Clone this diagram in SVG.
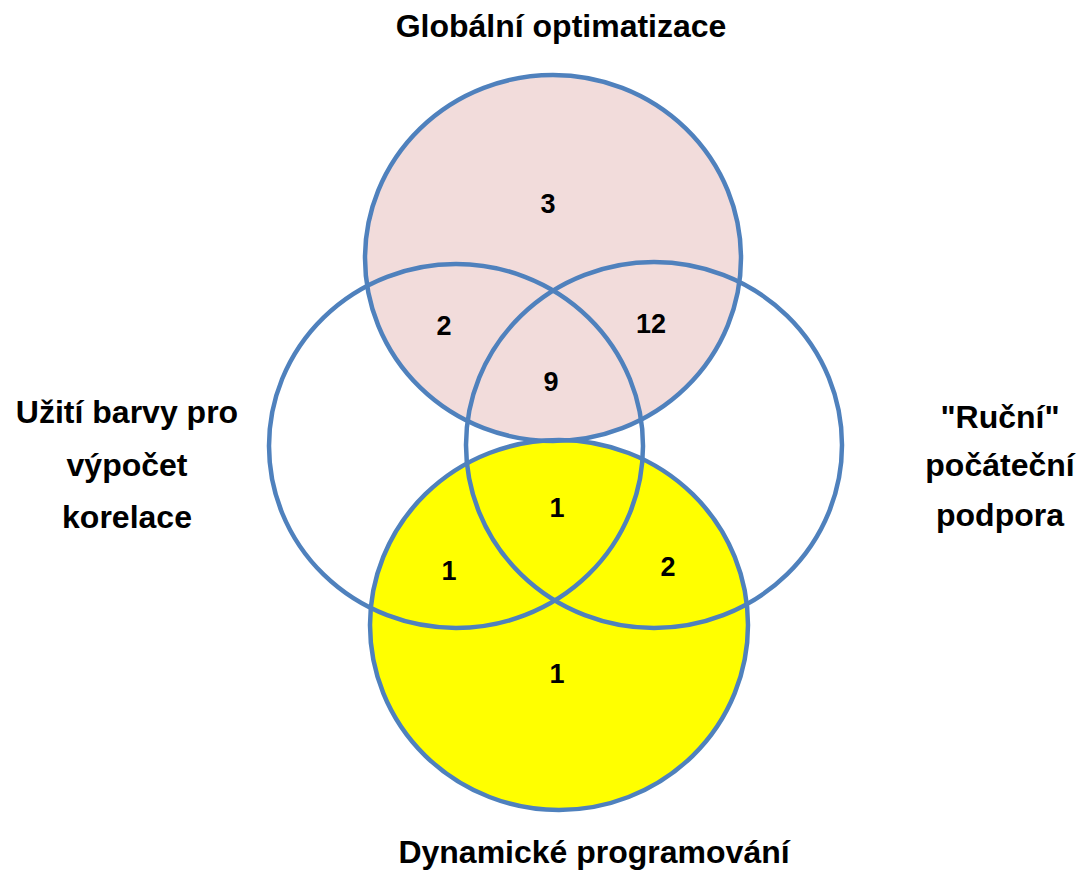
<svg xmlns="http://www.w3.org/2000/svg" width="1079" height="872" viewBox="0 0 1079 872">
  <style>
    .ring { fill: none; stroke: #4F81BD; stroke-width: 4.5; }
    .label { font-family: "Liberation Sans", Arial, sans-serif; font-weight: bold; font-size: 32px; fill: #000; text-anchor: middle; }
    .count { font-family: "Liberation Sans", Arial, sans-serif; font-weight: bold; font-size: 27px; fill: #000; text-anchor: middle; }
  </style>
  <rect width="1079" height="872" fill="#FFFFFF"/>

  <!-- set fills -->
  <g id="fills">
    <ellipse cx="553" cy="258" rx="188" ry="183" fill="#F2DCDB"/>
    <ellipse cx="559" cy="625" rx="189" ry="185" fill="#FFFF00"/>
  </g>

  <!-- set outlines -->
  <g id="set-global">
    <ellipse class="ring" cx="553" cy="258" rx="188" ry="183"/>
    <text class="label" x="561" y="37">Globální optimatizace</text>
  </g>
  <g id="set-color">
    <ellipse class="ring" cx="456" cy="446" rx="187" ry="182"/>
    <text class="label" x="127" y="423">Užití barvy pro</text>
    <text class="label" x="127" y="476">výpočet</text>
    <text class="label" x="127" y="528">korelace</text>
  </g>
  <g id="set-manual">
    <ellipse class="ring" cx="654" cy="445" rx="188" ry="183"/>
    <text class="label" x="1000" y="428">"Ruční"</text>
    <text class="label" x="1000" y="476">počáteční</text>
    <text class="label" x="1000" y="526">podpora</text>
  </g>
  <g id="set-dynamic">
    <ellipse class="ring" cx="559" cy="625" rx="189" ry="185"/>
    <text class="label" x="594" y="863">Dynamické programování</text>
  </g>

  <!-- region counts -->
  <g id="counts">
    <text class="count" x="548" y="213">3</text>
    <text class="count" x="444" y="335">2</text>
    <text class="count" x="651" y="333">12</text>
    <text class="count" x="551" y="391">9</text>
    <text class="count" x="557" y="517">1</text>
    <text class="count" x="449" y="580">1</text>
    <text class="count" x="668" y="576">2</text>
    <text class="count" x="557" y="683">1</text>
  </g>
</svg>
